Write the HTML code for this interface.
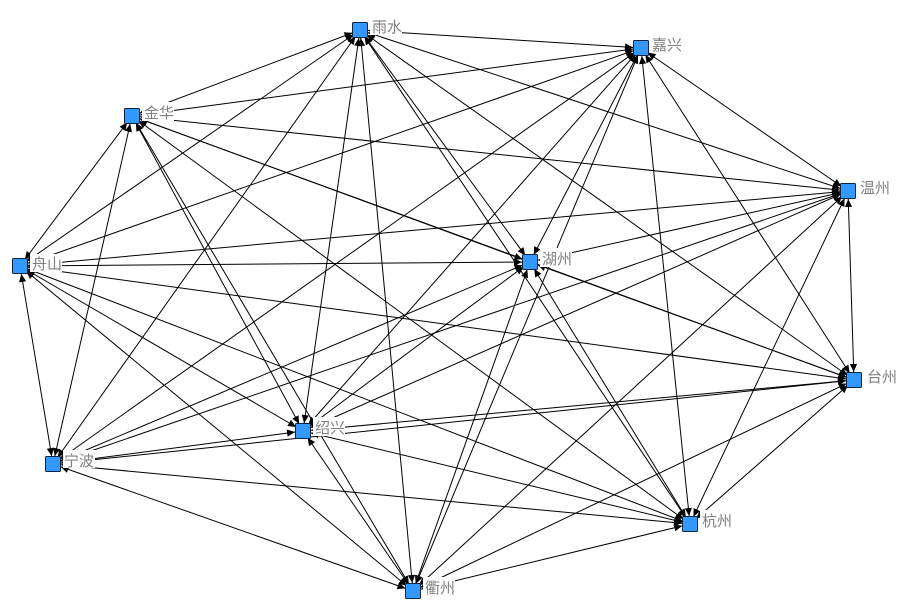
<!DOCTYPE html>
<html lang="zh">
<head>
<meta charset="utf-8">
<title>Network</title>
<style>
html,body{margin:0;padding:0;background:#fff;}
svg{display:block;}
line{stroke:#000;stroke-width:1;marker-start:url(#a);marker-end:url(#a);}
.l{fill:#fff;stroke:none;}
.n{fill:#3399ff;stroke:#0f2440;stroke-width:1;}
text{font-family:"Liberation Sans","Noto Sans CJK SC",sans-serif;font-size:15px;fill:#808080;}
</style>
</head>
<body>
<svg width="909" height="614" viewBox="0 0 909 614" xmlns="http://www.w3.org/2000/svg">
<defs>
<marker id="a" markerUnits="userSpaceOnUse" markerWidth="32" markerHeight="32" refX="16" refY="0" viewBox="-1 -16 32 32" orient="auto-start-reverse" overflow="visible">
<path d="M0 -3.6L8 0L0 3.6Z" fill="#000"/>
</marker>
</defs>
<g>
<line x1="360" y1="30" x2="641" y2="48"/>
<line x1="360" y1="30" x2="132" y2="116"/>
<line x1="360" y1="30" x2="848" y2="191"/>
<line x1="360" y1="30" x2="530" y2="262"/>
<line x1="360" y1="30" x2="20" y2="266"/>
<line x1="360" y1="30" x2="854" y2="380"/>
<line x1="360" y1="30" x2="303" y2="431"/>
<line x1="360" y1="30" x2="53" y2="464"/>
<line x1="360" y1="30" x2="690" y2="524"/>
<line x1="360" y1="30" x2="413" y2="591"/>
<line x1="641" y1="48" x2="132" y2="116"/>
<line x1="641" y1="48" x2="848" y2="191"/>
<line x1="641" y1="48" x2="530" y2="262"/>
<line x1="641" y1="48" x2="20" y2="266"/>
<line x1="641" y1="48" x2="854" y2="380"/>
<line x1="641" y1="48" x2="303" y2="431"/>
<line x1="641" y1="48" x2="53" y2="464"/>
<line x1="641" y1="48" x2="690" y2="524"/>
<line x1="641" y1="48" x2="413" y2="591"/>
<line x1="132" y1="116" x2="848" y2="191"/>
<line x1="132" y1="116" x2="530" y2="262"/>
<line x1="132" y1="116" x2="20" y2="266"/>
<line x1="132" y1="116" x2="854" y2="380"/>
<line x1="132" y1="116" x2="303" y2="431"/>
<line x1="132" y1="116" x2="53" y2="464"/>
<line x1="132" y1="116" x2="690" y2="524"/>
<line x1="132" y1="116" x2="413" y2="591"/>
<line x1="848" y1="191" x2="530" y2="262"/>
<line x1="848" y1="191" x2="20" y2="266"/>
<line x1="848" y1="191" x2="854" y2="380"/>
<line x1="848" y1="191" x2="303" y2="431"/>
<line x1="848" y1="191" x2="53" y2="464"/>
<line x1="848" y1="191" x2="690" y2="524"/>
<line x1="848" y1="191" x2="413" y2="591"/>
<line x1="530" y1="262" x2="20" y2="266"/>
<line x1="530" y1="262" x2="854" y2="380"/>
<line x1="530" y1="262" x2="303" y2="431"/>
<line x1="530" y1="262" x2="53" y2="464"/>
<line x1="530" y1="262" x2="690" y2="524"/>
<line x1="530" y1="262" x2="413" y2="591"/>
<line x1="20" y1="266" x2="854" y2="380"/>
<line x1="20" y1="266" x2="303" y2="431"/>
<line x1="20" y1="266" x2="53" y2="464"/>
<line x1="20" y1="266" x2="690" y2="524"/>
<line x1="20" y1="266" x2="413" y2="591"/>
<line x1="854" y1="380" x2="303" y2="431"/>
<line x1="854" y1="380" x2="53" y2="464"/>
<line x1="854" y1="380" x2="690" y2="524"/>
<line x1="854" y1="380" x2="413" y2="591"/>
<line x1="303" y1="431" x2="53" y2="464"/>
<line x1="303" y1="431" x2="690" y2="524"/>
<line x1="303" y1="431" x2="413" y2="591"/>
<line x1="53" y1="464" x2="690" y2="524"/>
<line x1="53" y1="464" x2="413" y2="591"/>
<line x1="690" y1="524" x2="413" y2="591"/>
</g>
<g>
<rect class="l" x="370" y="16" width="32" height="19"/>
<rect class="l" x="651" y="34" width="32" height="19"/>
<rect class="l" x="142" y="102" width="32" height="19"/>
<rect class="l" x="858" y="177" width="32" height="19"/>
<rect class="l" x="540" y="248" width="32" height="19"/>
<rect class="l" x="30" y="254" width="32" height="18"/>
<rect class="l" x="865" y="366" width="32" height="19"/>
<rect class="l" x="313" y="417" width="32" height="19"/>
<rect class="l" x="63" y="450" width="32" height="18"/>
<rect class="l" x="700" y="510" width="32" height="19"/>
<rect class="l" x="423" y="577" width="32" height="19"/>
</g>
<g>
<rect class="n" x="352.5" y="22.5" width="15" height="15" rx="1"/>
<rect class="n" x="633.5" y="40.5" width="15" height="15" rx="1"/>
<rect class="n" x="124.5" y="108.5" width="15" height="15" rx="1"/>
<rect class="n" x="840.5" y="183.5" width="15" height="15" rx="1"/>
<rect class="n" x="522.5" y="254.5" width="15" height="15" rx="1"/>
<rect class="n" x="12.5" y="258.5" width="15" height="15" rx="1"/>
<rect class="n" x="846.5" y="372.5" width="15" height="15" rx="1"/>
<rect class="n" x="295.5" y="423.5" width="15" height="15" rx="1"/>
<rect class="n" x="45.5" y="456.5" width="15" height="15" rx="1"/>
<rect class="n" x="682.5" y="516.5" width="15" height="15" rx="1"/>
<rect class="n" x="405.5" y="583.5" width="15" height="15" rx="1"/>
</g>
<g>
<text x="372" y="32">雨水</text>
<text x="652" y="50">嘉兴</text>
<text x="144" y="118">金华</text>
<text x="860" y="193">温州</text>
<text x="542" y="264">湖州</text>
<text x="32" y="269">舟山</text>
<text x="867" y="382">台州</text>
<text x="315" y="433">绍兴</text>
<text x="64" y="466">宁波</text>
<text x="702" y="526">杭州</text>
<text x="425" y="593">衢州</text>
</g>
</svg>
</body>
</html>
